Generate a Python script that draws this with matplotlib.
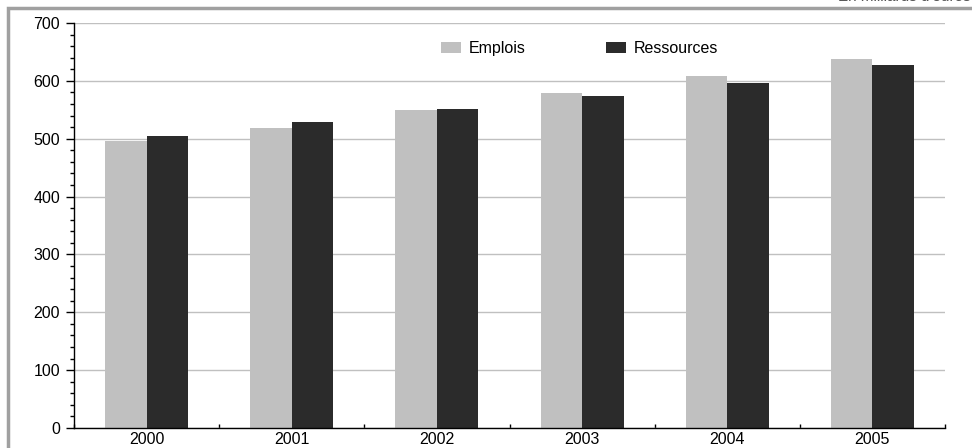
import matplotlib.pyplot as plt
from matplotlib.patches import Rectangle
import numpy as np

plt.rcParams['font.family'] = ['Liberation Sans', 'DejaVu Sans']

annees = ['2000', '2001', '2002', '2003', '2004', '2005']
emplois = [496, 518, 550, 579, 608, 638]
ressources = [505, 529, 551, 574, 596, 627]

fig = plt.figure(figsize=(9.72, 4.48), dpi=100)

# grey frame around the chart area
fig.patches.append(Rectangle((8 / 972, -0.1), 1.0, (440 / 448) + 0.1,
                             transform=fig.transFigure, fill=False,
                             edgecolor='#a0a0a0', linewidth=2.5))
fig.text(970 / 972, 447 / 448, "En milliards d'euros", ha='right', va='baseline',
         fontsize=11, color='#555555')

ax = fig.add_axes([74 / 972, 20 / 448, 871 / 972, 405 / 448])
x = np.arange(len(annees))
w = 0.286
ax.bar(x - w / 2, emplois, w, color='#c0c0c0', label='Emplois', zorder=2)
ax.bar(x + w / 2, ressources, w, color='#2b2b2b', label='Ressources', zorder=2)

ax.set_xlim(-0.5, len(annees) - 0.5)
ax.set_ylim(0, 700)
ax.set_yticks(range(0, 701, 100))
ax.set_yticks(range(0, 701, 20), minor=True)
ax.yaxis.grid(True, color='#c0c0c0', linewidth=1)
ax.set_axisbelow(True)

ax.set_xticks(x)
ax.set_xticklabels(annees)
ax.set_xticks(np.arange(-0.5, len(annees), 1.0), minor=True)
ax.tick_params(axis='x', which='major', length=0, pad=3, labelsize=11.5)
ax.tick_params(axis='x', which='minor', direction='in', length=3, width=1)
ax.tick_params(axis='y', which='major', direction='out', length=6, width=1,
               pad=4, labelsize=11.5)
ax.tick_params(axis='y', which='minor', direction='out', length=3, width=1)

for s in ['top', 'right']:
    ax.spines[s].set_visible(False)
for s in ['left', 'bottom']:
    ax.spines[s].set_color('black')
    ax.spines[s].set_linewidth(1)

ax.legend(loc='upper left', bbox_to_anchor=(0.405, 0.99), ncol=2, frameon=False,
          fontsize=11.5, handlelength=1.25, handleheight=0.7, columnspacing=5.0,
          handletextpad=0.5)

fig.savefig('out.png', dpi=100)
